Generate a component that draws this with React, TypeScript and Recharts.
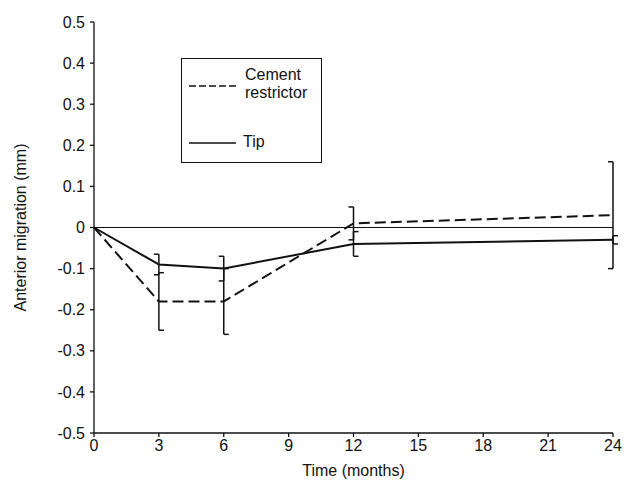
import React from 'react';
import { ComposedChart, Line, XAxis, YAxis, ReferenceLine, ErrorBar } from 'recharts';

// months after surgery
const months = [0, 3, 6, 12, 24];

// mean anterior migration (mm) and error half-width
const cementRestrictor = [0, -0.18, -0.18, 0.01, 0.03];
const cementError = [0, 0.07, 0.08, 0.04, 0.13];
const tip = [0, -0.09, -0.1, -0.04, -0.03];
const tipError = [0, 0.025, 0.03, 0.03, 0.01];

const xTicks = [0, 3, 6, 9, 12, 15, 18, 21, 24];
const yTicks = [0.5, 0.4, 0.3, 0.2, 0.1, 0, -0.1, -0.2, -0.3, -0.4, -0.5];

const data = months.map((m, i) => ({
  month: m,
  cement: cementRestrictor[i],
  cementErr: cementError[i],
  cementHi: cementError[i] ? cementRestrictor[i] + cementError[i] : null,
  cementLo: cementError[i] ? cementRestrictor[i] - cementError[i] : null,
  tip: tip[i],
  tipErr: tipError[i],
  tipHi: tipError[i] ? tip[i] + tipError[i] : null,
  tipLo: tipError[i] ? tip[i] - tipError[i] : null,
}));

const INK = '#111';
const FONT = '"Liberation Sans", Arial, sans-serif';
const FS = 16;

// half-bracket error bars: +1 caps point right "[", -1 point left "]"
const cementCaps = [1, 1, 1, -1, -1];
const tipCaps = [-1, -1, -1, 1, 1];

const capDot = (dirs: number[]) => (props: any) => {
  const { cx, cy, index, value } = props;
  if (value == null || cy == null || isNaN(cy)) return <g key={`c-${index}`} />;
  return (
    <line
      key={`c-${index}`}
      x1={cx}
      x2={cx + dirs[index] * 5}
      y1={cy}
      y2={cy}
      stroke={INK}
      strokeWidth={1.5}
    />
  );
};

const ChartLegend = () => (
  <div
    style={{
      position: 'absolute',
      left: 181,
      top: 58,
      width: 141,
      height: 105,
      border: `1.5px solid ${INK}`,
      boxSizing: 'border-box',
      fontFamily: FONT,
      fontSize: FS,
      color: INK,
      lineHeight: '18px',
    }}
  >
    <svg width={50} height={4} style={{ position: 'absolute', left: 7, top: 25 }}>
      <line x1={0} x2={47} y1={2} y2={2} stroke={INK} strokeWidth={1.5} strokeDasharray="7 3" />
    </svg>
    <div style={{ position: 'absolute', left: 63, top: 7 }}>
      Cement
      <br />
      restrictor
    </div>
    <svg width={50} height={4} style={{ position: 'absolute', left: 7, top: 82 }}>
      <line x1={0} x2={47} y1={2} y2={2} stroke={INK} strokeWidth={1.5} />
    </svg>
    <div style={{ position: 'absolute', left: 61, top: 74 }}>Tip</div>
  </div>
);

export default function App() {
  return (
    <div style={{ position: 'absolute', left: 0, top: 0, width: 626, height: 500, background: '#fff' }}>
      <ComposedChart
        width={626}
        height={500}
        data={data}
        margin={{ top: 22, right: 13, bottom: 0, left: 0 }}
        style={{ fontFamily: FONT }}
      >
        <XAxis
          dataKey="month"
          type="number"
          domain={[0, 24]}
          ticks={xTicks}
          interval={0}
          height={67}
          tickSize={4}
          tickMargin={3}
          stroke={INK}
          strokeWidth={1.3}
          tick={{ fill: INK, fontSize: FS }}
          label={{ value: 'Time (months)', position: 'insideBottom', offset: 24, fill: INK, fontSize: FS }}
        />
        <YAxis
          type="number"
          domain={[-0.5, 0.5]}
          ticks={yTicks}
          interval={0}
          width={94}
          tickSize={4}
          tickMargin={5}
          stroke={INK}
          strokeWidth={1.3}
          tick={{ fill: INK, fontSize: FS }}
          tickFormatter={(v: number) => (v === 0 ? '0' : v.toFixed(1))}
          label={{
            value: 'Anterior migration (mm)',
            angle: -90,
            position: 'insideLeft',
            offset: 20,
            fill: INK,
            fontSize: FS,
            style: { textAnchor: 'middle' },
          }}
        />
        <ReferenceLine y={0} stroke={INK} strokeWidth={1.2} />
        <Line
          dataKey="cement"
          stroke={INK}
          strokeWidth={2}
          strokeDasharray="11 5"
          dot={false}
          activeDot={false}
          isAnimationActive={false}
        >
          <ErrorBar dataKey="cementErr" width={0} stroke={INK} strokeWidth={1.5} direction="y" isAnimationActive={false} />
        </Line>
        <Line
          dataKey="tip"
          stroke={INK}
          strokeWidth={2}
          dot={false}
          activeDot={false}
          isAnimationActive={false}
        >
          <ErrorBar dataKey="tipErr" width={0} stroke={INK} strokeWidth={1.5} direction="y" isAnimationActive={false} />
        </Line>
        <Line dataKey="cementHi" stroke="none" dot={capDot(cementCaps)} activeDot={false} isAnimationActive={false} />
        <Line dataKey="cementLo" stroke="none" dot={capDot(cementCaps)} activeDot={false} isAnimationActive={false} />
        <Line dataKey="tipHi" stroke="none" dot={capDot(tipCaps)} activeDot={false} isAnimationActive={false} />
        <Line dataKey="tipLo" stroke="none" dot={capDot(tipCaps)} activeDot={false} isAnimationActive={false} />
      </ComposedChart>
      <ChartLegend />
    </div>
  );
}
